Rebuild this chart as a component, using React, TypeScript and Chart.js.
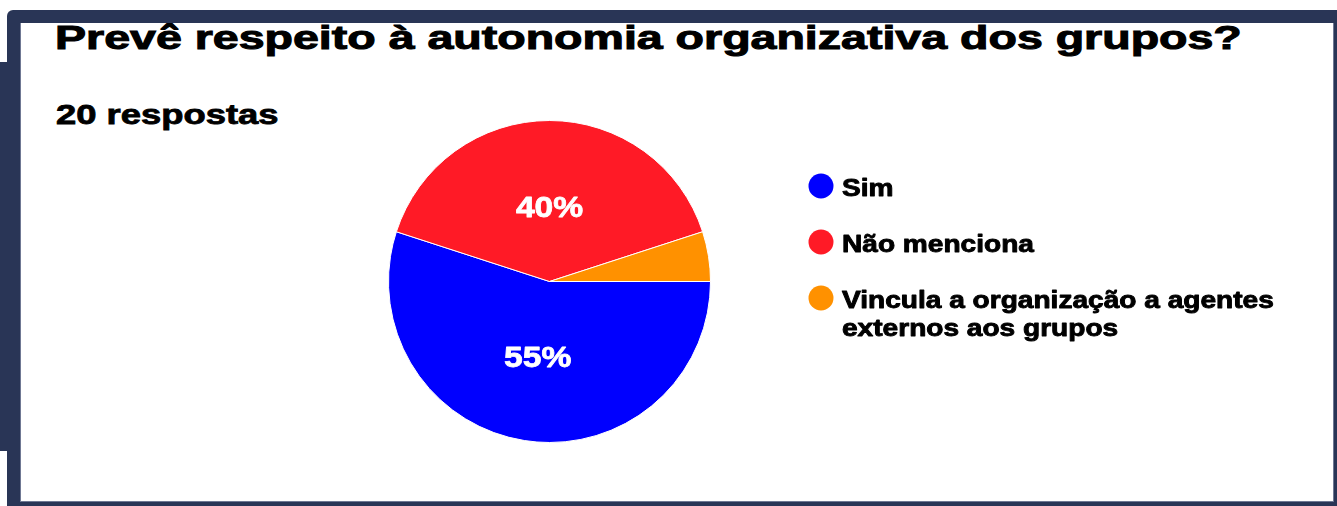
import React, { useEffect, useRef } from "react";
import { Chart, registerables } from "chart.js";

Chart.register(...registerables);

// ---- data ----
const titleText = "Prevê respeito à autonomia organizativa dos grupos?";
const subtitleText = "20 respostas";
const categories = ["Sim", "Não menciona", "Vincula a organização a agentes externos aos grupos"];
const responses = [11, 8, 1];
const sliceColors = ["#0000FF", "#FF1A26", "#FF9100"];

const NAVY = "#293556";
const FONT = "'Liberation Sans', Arial, Helvetica, sans-serif";

const sliceLabelPlugin = {
  id: "sliceLabels",
  afterDatasetsDraw(chart: any) {
    const meta = chart.getDatasetMeta(0);
    const data = chart.data.datasets[0].data as number[];
    const total = data.reduce((a, b) => a + b, 0);
    const ctx = chart.ctx as CanvasRenderingContext2D;
    const size = 30;
    ctx.save();
    ctx.fillStyle = "#FFFFFF";
    ctx.strokeStyle = "#FFFFFF";
    ctx.lineWidth = 0.8;
    ctx.lineJoin = "round";
    ctx.font = `bold ${size}px ${FONT}`;
    ctx.textAlign = "center";
    ctx.textBaseline = "alphabetic";
    meta.data.forEach((arc: any, i: number) => {
      const pct = (data[i] / total) * 100;
      if (pct < 10) return;
      const p = arc.getProps(["x", "y", "startAngle", "endAngle", "outerRadius"], true);
      const mid = (p.startAngle + p.endAngle) / 2;
      const r = p.outerRadius * 0.47;
      const px = p.x + Math.cos(mid) * r;
      const py = p.y + Math.sin(mid) * r;
      ctx.save();
      ctx.translate(px, py + size * 0.36);
      ctx.scale(1.12, 1);
      const t = Math.round(pct) + "%";
      ctx.fillText(t, 0, 0);
      ctx.strokeText(t, 0, 0);
      ctx.restore();
    });
    ctx.restore();
  },
};

const legendPlugin = {
  id: "sideLegend",
  afterDraw(chart: any) {
    const ctx = chart.ctx as CanvasRenderingContext2D;
    const area = chart.chartArea;
    const labels = chart.data.labels as string[];
    const colors = chart.data.datasets[0].backgroundColor as string[];
    const size = 24;
    const sx = 1.17;
    const markerR = 12.5;
    const cx = area.right + 110;
    const textX = cx + 21;
    const maxW = 480;
    const lineH = 28.5;
    let cy = area.top + 66;
    ctx.save();
    ctx.font = `bold ${size}px ${FONT}`;
    ctx.textAlign = "left";
    ctx.textBaseline = "alphabetic";
    ctx.lineJoin = "round";
    labels.forEach((label, i) => {
      ctx.beginPath();
      ctx.fillStyle = colors[i];
      ctx.arc(cx, cy, markerR, 0, Math.PI * 2);
      ctx.fill();
      // word wrap
      const words = label.split(" ");
      const lines: string[] = [];
      let cur = "";
      words.forEach((w) => {
        const test = cur ? cur + " " + w : w;
        if (ctx.measureText(test).width * sx > maxW && cur) {
          lines.push(cur);
          cur = w;
        } else cur = test;
      });
      if (cur) lines.push(cur);
      ctx.fillStyle = "#000000";
      ctx.strokeStyle = "#000000";
      ctx.lineWidth = 0.9;
      lines.forEach((ln, j) => {
        ctx.save();
        ctx.translate(textX, cy + 9.5 + j * lineH);
        ctx.scale(sx, 1);
        ctx.fillText(ln, 0, 0);
        ctx.strokeText(ln, 0, 0);
        ctx.restore();
      });
      cy += 56;
    });
    ctx.restore();
  },
};

export default function App() {
  const canvasRef = useRef<HTMLCanvasElement | null>(null);

  useEffect(() => {
    if (!canvasRef.current) return;
    const chart = new Chart(canvasRef.current, {
      type: "pie",
      data: {
        labels: categories,
        datasets: [
          {
            data: responses,
            backgroundColor: sliceColors,
            borderColor: "#FFFFFF",
            borderWidth: 1,
          },
        ],
      },
      options: {
        animation: false,
        responsive: false,
        devicePixelRatio: 1,
        rotation: 90,
        layout: { padding: { left: 388, right: 626, top: 120, bottom: 63 } },
        plugins: {
          legend: { display: false },
          tooltip: { enabled: false },
          title: { display: false },
        },
      },
      plugins: [sliceLabelPlugin, legendPlugin],
    });
    return () => chart.destroy();
  }, []);

  const textBase: React.CSSProperties = {
    position: "absolute",
    fontFamily: FONT,
    fontWeight: "bold",
    color: "#000",
    whiteSpace: "nowrap",
    transformOrigin: "0 0",
  };

  return (
    <div style={{ position: "absolute", left: 0, top: 0, width: 1337, height: 506, background: "#fff", overflow: "hidden" }}>
      <div style={{ position: "absolute", left: 7, top: 10, width: 1330, height: 496, background: NAVY, borderTopLeftRadius: 6 }} />
      <div style={{ position: "absolute", left: 0, top: 62, width: 20, height: 389, background: NAVY }} />
      <div
        style={{
          position: "absolute",
          left: 20,
          top: 23,
          width: 1314,
          height: 479,
          background: "#fff",
          boxSizing: "border-box",
          borderLeft: "1px solid #6f7893",
          borderRight: "1px solid #6f7893",
          borderBottom: "1px solid #6f7893",
        }}
      />
      <div style={{ ...textBase, left: 55, top: 21, fontSize: 33, lineHeight: "33px", transform: "scaleX(1.41)", WebkitTextStroke: "1px #000" } as React.CSSProperties}>{titleText}</div>
      <div style={{ ...textBase, left: 56, top: 101, fontSize: 28, lineHeight: "28px", transform: "scaleX(1.30)", WebkitTextStroke: "0.8px #000" } as React.CSSProperties}>{subtitleText}</div>
      <canvas ref={canvasRef} width={1337} height={506} style={{ position: "absolute", left: 0, top: 0, width: 1337, height: 506 }} />
    </div>
  );
}
